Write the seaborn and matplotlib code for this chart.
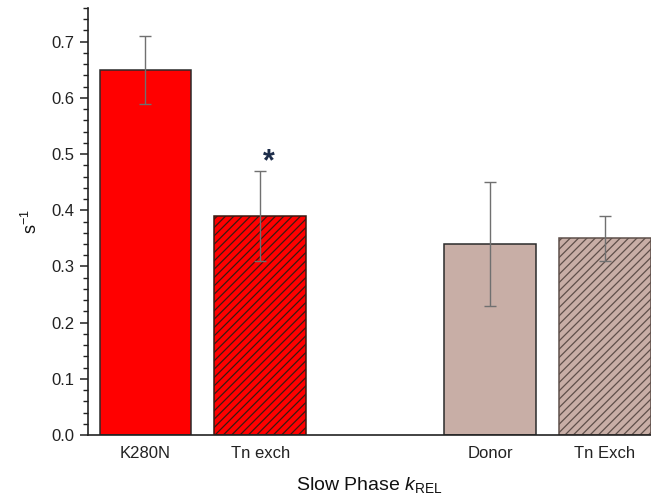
import matplotlib
matplotlib.use("Agg")
import matplotlib.pyplot as plt
from matplotlib.ticker import MultipleLocator, FormatStrFormatter
import pandas as pd
import seaborn as sns

# Slow phase relaxation rate (s^-1), mean and error per group
groups = ["K280N", "Tn exch", "Donor", "Tn Exch"]
rates = [0.65, 0.39, 0.34, 0.35]
errors = [0.06, 0.08, 0.11, 0.04]
fills = ["#FF0000", "#FF0000", "#C8AEA6", "#C8AEA6"]
hatched = [False, True, False, True]
significant = [False, True, False, False]

# a blank slot separates the K280N pair from the donor pair
order = ["K280N", "Tn exch", " ", "Donor", "Tn Exch"]

sns.set_theme(style="ticks")
plt.rcParams["font.family"] = ["Liberation Sans", "DejaVu Sans"]
plt.rcParams["mathtext.fontset"] = "custom"
plt.rcParams["mathtext.rm"] = "Liberation Sans"
plt.rcParams["mathtext.it"] = "Liberation Sans:italic"
plt.rcParams["hatch.linewidth"] = 0.9

df = pd.DataFrame({"group": groups, "rate": rates})

fig = plt.figure(figsize=(6.51, 5.0), dpi=100)
ax = fig.add_axes([0.1352, 0.13, 0.8648, 0.854])

sns.barplot(data=df, x="group", y="rate", hue="group", order=order,
            hue_order=groups, palette=dict(zip(groups, fills)),
            errorbar=None, legend=False, width=0.8, saturation=1,
            edgecolor="#2b2b2b", linewidth=1.1, ax=ax)

# style the bars, matched by their horizontal position
pos = {g: order.index(g) for g in groups}
bars = sorted([p for p in ax.patches if p.get_height() > 0],
              key=lambda p: p.get_x())
for bar, g, h, fc in zip(bars, groups, hatched, fills):
    if h:
        bar.set_hatch("////")
        bar.set_edgecolor("#3a1a12" if fc == "#FF0000" else "#5e4f4a")

xs = [pos[g] for g in groups]
ax.errorbar(xs, rates, yerr=errors, fmt="none", ecolor="#707070",
            elinewidth=1.0, capsize=4, capthick=1.0, zorder=5)

for x, r, e, s in zip(xs, rates, errors, significant):
    if s:
        ax.text(x + 0.07, r + e - 0.012, "*", ha="center", va="bottom",
                fontsize=22, fontweight="bold", color="#1d2d4a")

ax.set_xlim(-0.5, 4.4)
ax.set_ylim(0, 0.76)
ax.yaxis.set_major_locator(MultipleLocator(0.1))
ax.yaxis.set_minor_locator(MultipleLocator(0.02))
ax.yaxis.set_major_formatter(FormatStrFormatter("%.1f"))
ax.tick_params(axis="y", which="major", length=6, width=1.1,
               labelsize=12, colors="#222222")
ax.tick_params(axis="y", which="minor", length=3.5, width=1.0,
               colors="#222222")
ax.tick_params(axis="x", length=0, labelsize=12, pad=8, colors="#222222")

for side in ["top", "right"]:
    ax.spines[side].set_visible(False)
for side in ["left", "bottom"]:
    ax.spines[side].set_linewidth(1.2)
    ax.spines[side].set_color("#222222")

ax.set_xlabel(r"Slow Phase $\mathit{k}_{\mathrm{REL}}$", fontsize=14,
              labelpad=10, color="#111111")
ax.set_ylabel(r"s$^{\mathrm{-1}}$", fontsize=13, labelpad=8,
              color="#111111")

fig.savefig("out.png", dpi=100)
